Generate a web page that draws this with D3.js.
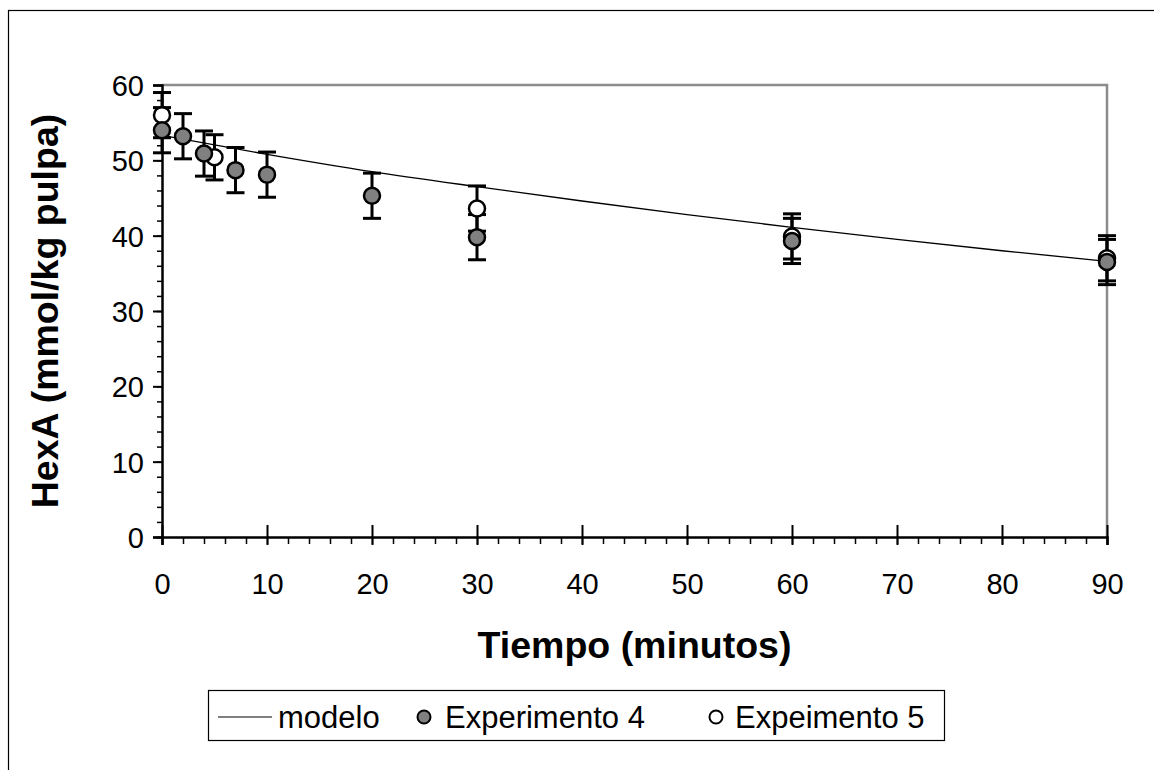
<!DOCTYPE html>
<html>
<head>
<meta charset="utf-8">
<script src="https://cdn.jsdelivr.net/npm/d3@7"></script>
<style>
  body { margin: 0; background: #fff; }
  svg { display: block; font-family: "Liberation Sans", Arial, sans-serif; }
</style>
</head>
<body>
<div id="chart"></div>
<script>
// data
var tiempo4 = [0, 2, 4, 7, 10, 20, 30, 60, 90];
var hexa4   = [54.0, 53.2, 50.9, 48.7, 48.1, 45.3, 39.8, 39.3, 36.5];
var err4    = [3, 3, 3, 3, 3, 3, 3, 3, 3];

var tiempo5 = [0, 5, 30, 60, 90];
var hexa5   = [56.0, 50.4, 43.6, 39.9, 37.0];
var err5    = [3, 3, 3, 3, 3];

var tiempoModelo = [0, 10, 20, 30, 40, 50, 60, 70, 80, 90];
var hexaModelo   = [53.3, 50.8, 48.5, 46.5, 44.6, 42.8, 41.1, 39.5, 38.0, 36.6];

var xTicks = [0, 10, 20, 30, 40, 50, 60, 70, 80, 90];
var yTicks = [0, 10, 20, 30, 40, 50, 60];
var legendLabels = ['modelo', 'Experimento 4', 'Expeimento 5'];

var W = 1154, H = 770;
var margin = {top: 85, right: 47, bottom: 233, left: 162};
var width = W - margin.left - margin.right,
    height = H - margin.top - margin.bottom;

var svg = d3.select('#chart').append('svg')
    .attr('width', W)
    .attr('height', H);

// outer chart border (runs off the right and bottom edges)
svg.append('rect')
    .attr('x', 8.5).attr('y', 10.5)
    .attr('width', W).attr('height', H)
    .style('fill', 'none')
    .style('stroke', '#000')
    .style('stroke-width', 1.2);

var x = d3.scaleLinear().domain([0, 90]).range([0, width]);
var y = d3.scaleLinear().domain([0, 60]).range([height, 0]);

var g = svg.append('g')
    .attr('transform', 'translate(' + margin.left + ',' + margin.top + ')');

// gray frame top/right
g.append('path')
    .attr('d', 'M0,0H' + width + 'V' + height)
    .style('fill', 'none')
    .style('stroke', '#8c8c8c')
    .style('stroke-width', 2.5);

// minor ticks
var xMinor = d3.range(0, 91, 2);
var yMinor = d3.range(0, 61, 2);

var xMinorAxis = d3.axisBottom(x).tickValues(xMinor).tickSize(7).tickFormat('');
var xm = g.append('g').attr('transform', 'translate(0,' + height + ')').call(xMinorAxis);
xm.select('.domain').remove();
xm.selectAll('line').style('stroke', '#000').style('stroke-width', 1.5);

var yMinorAxis = d3.axisLeft(y).tickValues(yMinor).tickSize(5).tickFormat('');
var ym = g.append('g').call(yMinorAxis);
ym.select('.domain').remove();
ym.selectAll('line').style('stroke', '#000').style('stroke-width', 1.5);

// major ticks + labels
var xAxis = d3.axisBottom(x).tickValues(xTicks).tickSize(8).tickPadding(28);
var xg = g.append('g').attr('transform', 'translate(0,' + height + ')').call(xAxis);
xg.selectAll('line').attr('y1', -12).style('stroke', '#000').style('stroke-width', 2);
xg.select('.domain').style('stroke', '#000').style('stroke-width', 2.5);
xg.selectAll('text').style('font-size', '29px').style('fill', '#000');

var yAxis = d3.axisLeft(y).tickValues(yTicks).tickSize(9).tickPadding(9);
var yg = g.append('g').call(yAxis);
yg.selectAll('line').style('stroke', '#000').style('stroke-width', 2);
yg.select('.domain').style('stroke', '#000').style('stroke-width', 2.5);
yg.selectAll('text').style('font-size', '29px').style('fill', '#000').attr('dy', '0.36em');

// model line
var line = d3.line()
    .x(function(d, i) { return x(tiempoModelo[i]); })
    .y(function(d) { return y(d); })
    .curve(d3.curveMonotoneX);

g.append('path')
    .datum(hexaModelo)
    .attr('d', line)
    .style('fill', 'none')
    .style('stroke', '#000')
    .style('stroke-width', 1.3);

// error bars
function errorBars(ts, vals, errs) {
  var eb = g.append('g');
  ts.forEach(function(t, i) {
    var cx = x(t);
    var y1 = y(vals[i] + errs[i]), y2 = y(vals[i] - errs[i]);
    eb.append('line').attr('x1', cx).attr('x2', cx).attr('y1', y1).attr('y2', y2);
    eb.append('line').attr('x1', cx - 9).attr('x2', cx + 9).attr('y1', y1).attr('y2', y1);
    eb.append('line').attr('x1', cx - 9).attr('x2', cx + 9).attr('y1', y2).attr('y2', y2);
  });
  eb.selectAll('line').style('stroke', '#000').style('stroke-width', 3);
}
errorBars(tiempo5, hexa5, err5);
errorBars(tiempo4, hexa4, err4);

// markers
g.append('g').selectAll('circle').data(hexa5).enter()
  .append('circle')
    .attr('cx', function(d, i) { return x(tiempo5[i]); })
    .attr('cy', function(d) { return y(d); })
    .attr('r', 8)
    .style('fill', '#fff')
    .style('stroke', '#000')
    .style('stroke-width', 2.5);

g.append('g').selectAll('circle').data(hexa4).enter()
  .append('circle')
    .attr('cx', function(d, i) { return x(tiempo4[i]); })
    .attr('cy', function(d) { return y(d); })
    .attr('r', 8)
    .style('fill', '#808080')
    .style('stroke', '#000')
    .style('stroke-width', 2.5);

// axis titles
svg.append('text')
    .attr('x', margin.left + width / 2)
    .attr('y', 658)
    .attr('text-anchor', 'middle')
    .style('font-size', '37.5px')
    .style('font-weight', 'bold')
    .text('Tiempo (minutos)');

svg.append('text')
    .attr('transform', 'translate(58,' + (margin.top + height / 2) + ') rotate(-90)')
    .attr('text-anchor', 'middle')
    .style('font-size', '37.5px')
    .style('font-weight', 'bold')
    .text('HexA (mmol/kg pulpa)');

// legend
var lg = svg.append('g');
lg.append('rect')
    .attr('x', 208.5).attr('y', 690.5)
    .attr('width', 736).attr('height', 50)
    .style('fill', '#fff')
    .style('stroke', '#000')
    .style('stroke-width', 1.2);

var ly = 717;
lg.append('line')
    .attr('x1', 218).attr('x2', 272).attr('y1', ly).attr('y2', ly)
    .style('stroke', '#555').style('stroke-width', 1.3);
lg.append('circle').attr('cx', 424).attr('cy', ly).attr('r', 6.5)
    .style('fill', '#808080').style('stroke', '#000').style('stroke-width', 2);
lg.append('circle').attr('cx', 716).attr('cy', ly).attr('r', 6.5)
    .style('fill', '#fff').style('stroke', '#000').style('stroke-width', 2);

var legendX = [278, 445, 735];
lg.selectAll('text.leg').data(legendLabels).enter()
  .append('text')
    .attr('class', 'leg')
    .attr('x', function(d, i) { return legendX[i]; })
    .attr('y', ly)
    .attr('dy', '0.36em')
    .style('font-size', '31px')
    .text(function(d) { return d; });
</script>
</body>
</html>
